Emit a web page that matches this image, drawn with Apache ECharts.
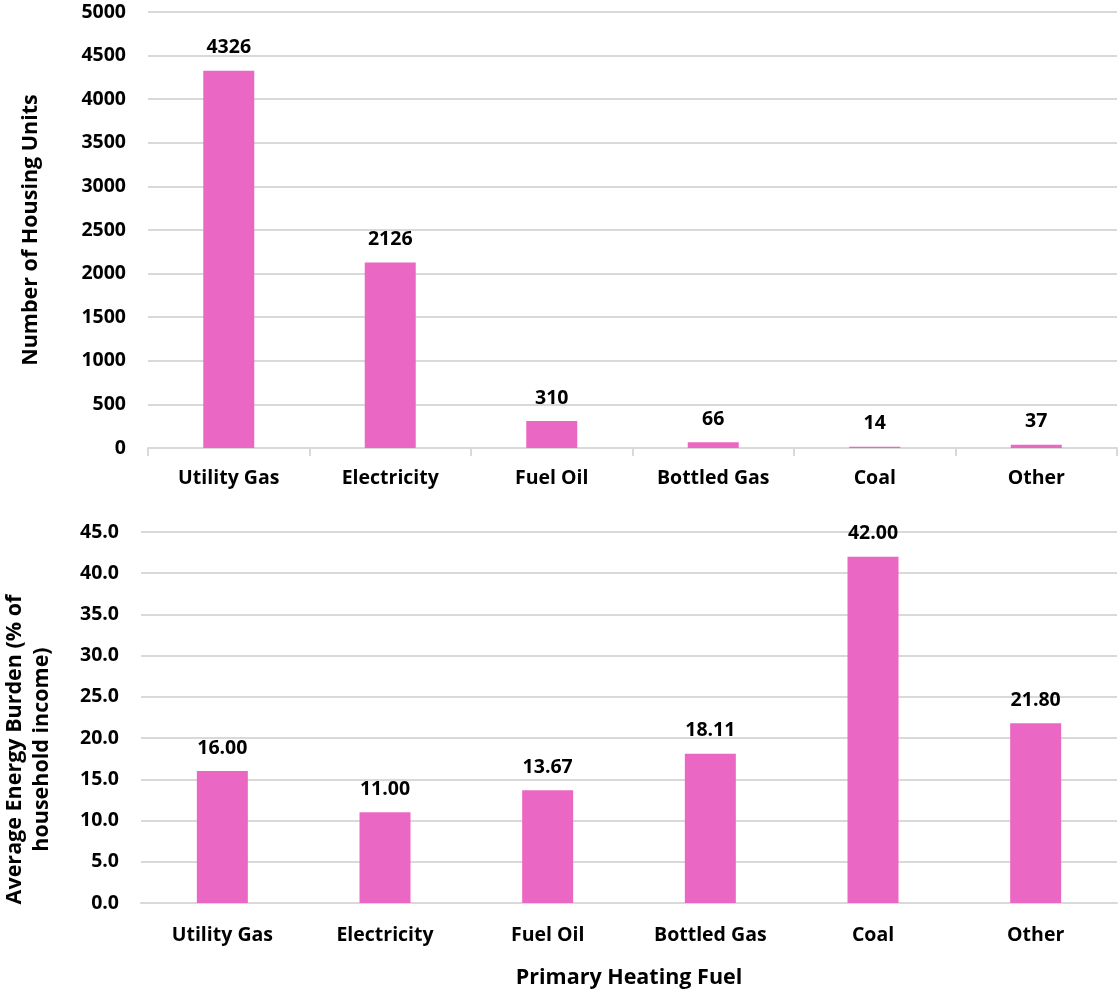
<!DOCTYPE html>
<html><head><meta charset="utf-8">
<script src="https://cdn.jsdelivr.net/npm/echarts@6/dist/echarts.min.js"></script>
<style>html,body{margin:0;padding:0;background:#fff}#c{width:1120px;height:991px}</style>
</head><body><div id="c"></div>
<script>
const categories = ["Utility Gas","Electricity","Fuel Oil","Bottled Gas","Coal","Other"];
const housingUnits = [4326,2126,310,66,14,37];
const energyBurden = [16.00,11.00,13.67,18.11,42.00,21.80];

const FONT = "Open Sans";
const barColor = "#EB67C4";
const chart = echarts.init(document.getElementById('c'), null, {renderer:'canvas'});
const axisText = {fontFamily:FONT, fontWeight:'bold', fontSize:19.5, color:'#000'};
chart.setOption({
  animation:false,
  grid:[
    {left:148, right:3, top:12, bottom:543, outerBoundsMode:'none', containLabel:false},
    {left:141, right:3, top:532, bottom:88, outerBoundsMode:'none', containLabel:false}
  ],
  xAxis:[
    {gridIndex:0, type:'category', data:categories,
     axisLine:{lineStyle:{color:'#d9d9d9', width:2}},
     axisTick:{show:true, length:8, lineStyle:{color:'#d9d9d9', width:2}},
     axisLabel:Object.assign({margin:20}, axisText)},
    {gridIndex:1, type:'category', data:categories,
     axisLine:{lineStyle:{color:'#d9d9d9', width:2}},
     axisTick:{show:false},
     axisLabel:Object.assign({margin:22}, axisText),
     name:'Primary Heating Fuel', nameLocation:'middle', nameGap:64,
     nameTextStyle:{fontFamily:FONT, fontWeight:'bold', fontSize:21.5, color:'#000'}}
  ],
  yAxis:[
    {gridIndex:0, type:'value', min:0, max:5000, interval:500,
     axisLine:{show:false}, axisTick:{show:false},
     splitLine:{lineStyle:{color:'#d9d9d9', width:2}},
     axisLabel:Object.assign({margin:22, formatter:v=>String(v)}, axisText),
     name:'Number of Housing Units', nameLocation:'middle', nameGap:106,
     nameTextStyle:{fontFamily:FONT, fontWeight:'bold', fontSize:21.5, color:'#000'}},
    {gridIndex:1, type:'value', min:0, max:45, interval:5,
     axisLine:{show:false}, axisTick:{show:false},
     splitLine:{lineStyle:{color:'#d9d9d9', width:2}},
     axisLabel:Object.assign({margin:22, formatter:v=>v.toFixed(1)}, axisText),
     name:'Average Energy Burden (% of\nhousehold income)', nameLocation:'middle', nameGap:86,
     nameTextStyle:{fontFamily:FONT, fontWeight:'bold', fontSize:21.5, color:'#000', lineHeight:27, padding:[0,64,0,0]}}
  ],
  series:[
    {type:'bar', xAxisIndex:0, yAxisIndex:0, data:housingUnits, barWidth:51,
     itemStyle:{color:barColor},
     label:{show:true, position:'top', distance:13, fontFamily:FONT, fontWeight:'bold', fontSize:19.5, color:'#000'}},
    {type:'bar', xAxisIndex:1, yAxisIndex:1, data:energyBurden, barWidth:51,
     itemStyle:{color:barColor},
     label:{show:true, position:'top', distance:13, formatter:p=>p.value.toFixed(2), fontFamily:FONT, fontWeight:'bold', fontSize:19.5, color:'#000'}}
  ]
});
</script></body></html>
